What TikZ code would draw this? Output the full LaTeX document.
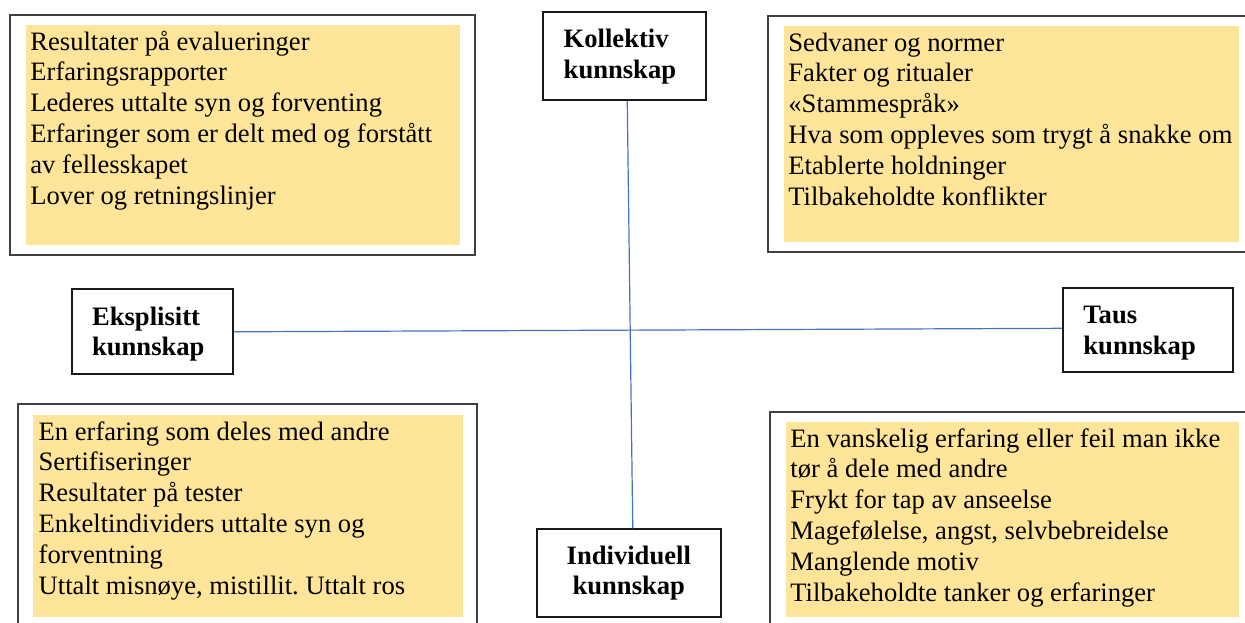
\documentclass[tikz,border=0pt]{standalone}
\usepackage{fontspec}
\setmainfont{Liberation Serif}
\usetikzlibrary{fit,calc}
\frenchspacing
\newcommand\stk[1]{\begin{tabular}[t]{@{}l@{}}#1\end{tabular}}
\newcommand\stkc[1]{\begin{tabular}[t]{@{}c@{}}#1\end{tabular}}
\definecolor{notefill}{HTML}{FFE599}
\definecolor{axisblue}{HTML}{4472C4}
\begin{document}
\begin{tikzpicture}[x=0.5pt,y=-0.5pt,
  outerbox/.style={draw=black!75, line width=0.9pt, inner sep=0pt},
  notebox/.style={fill=notefill, draw=none, inner sep=0pt},
  labelbox/.style={draw=black!90, line width=0.9pt, inner sep=0pt},
  listtext/.style={anchor=base west, inner sep=0pt, font=\fontsize{13.3}{15.4}\selectfont\frenchspacing},
  labeltext/.style={inner sep=0pt, font=\fontsize{13.3}{15.4}\selectfont\bfseries},
  axisline/.style={draw=axisblue, line width=0.6pt}
]
\useasboundingbox (0,0) rectangle (1245,622);
\clip (0,0) rectangle (1245,622);

% top left
\node[outerbox, fit={(10,14.7) (475,255)}] (tlout) {};
\node[notebox, fit={(26,25) (460,245)}] (tlnote) {};
\node[listtext] (tltext) at (30,50) {\stk{Resultater på evalueringer\\Erfaringsrapporter\\Lederes uttalte syn og forventing\\Erfaringer som er delt med og forstått\\av fellesskapet\\Lover og retningslinjer}};

% top right
\node[outerbox, fit={(768,15.7) (1270,251.7)}] (trout) {};
\node[notebox, fit={(784,26) (1239,241.7)}] (trnote) {};
\node[listtext] (trtext) at (788,51) {\stk{Sedvaner og normer\\Fakter og ritualer\\«Stammespråk»\\Hva som oppleves som trygt å snakke om\\Etablerte holdninger\\Tilbakeholdte konflikter}};

% bottom left
\node[outerbox, fit={(18.3,404.3) (477.3,640)}] (blout) {};
\node[notebox, fit={(33.3,415) (462.7,616.7)}] (blnote) {};
\node[listtext] (bltext) at (38.3,440) {\stk{En erfaring som deles med andre\\Sertifiseringer\\Resultater på tester\\Enkeltindividers uttalte syn og\\forventning\\Uttalt misnøye, mistillit. Uttalt ros}};

% bottom right
\node[outerbox, fit={(770,411.7) (1270,640)}] (brout) {};
\node[notebox, fit={(786,422.3) (1239.3,616.7)}] (brnote) {};
\node[listtext] (brtext) at (790,447) {\stk{En vanskelig erfaring eller feil man ikke\\tør å dele med andre\\Frykt for tap av anseelse\\Magefølelse, angst, selvbebreidelse\\Manglende motiv\\Tilbakeholdte tanker og erfaringer}};

% label boxes
\node[labelbox, fit={(542.7,12) (706,100)}] (koll) {};
\node[labeltext, anchor=base west] (kolltext) at (563.3,47.3) {\stk{Kollektiv\\kunnskap}};

\node[labelbox, fit={(71.7,289.3) (233.3,374.3)}] (eks) {};
\node[labeltext, anchor=base west] (ekstext) at (91.7,325) {\stk{Eksplisitt\\kunnskap}};

\node[labelbox, fit={(1062.7,288.3) (1232.7,371.7)}] (taus) {};
\node[labeltext, anchor=base west] (taustext) at (1083,323.3) {\stk{Taus\\kunnskap}};

\node[labelbox, fit={(536.7,529.3) (721,616.7)}] (indiv) {};
\node[labeltext, anchor=base] (indivtext) at (628.8,564) {\stkc{Individuell\\kunnskap}};

% axes
\draw[axisline] ($(koll.south)+(2.9,0)$) -- ($(indiv.north)+(3.9,0)$);
\draw[axisline] (eks.east) -- ($(taus.west)+(0,-1.7)$);
\end{tikzpicture}
\end{document}
